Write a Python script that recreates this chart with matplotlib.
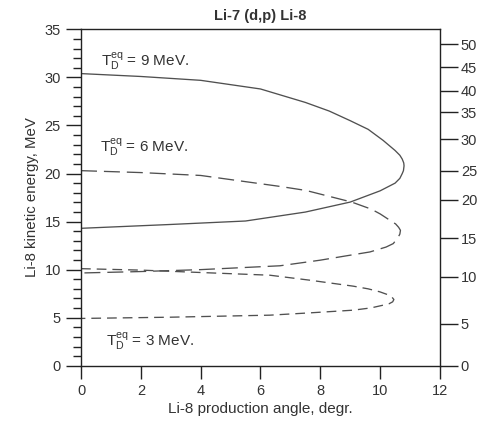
import matplotlib
matplotlib.use("Agg")
import matplotlib.pyplot as plt

plt.rcParams["font.family"] = ["Liberation Sans", "DejaVu Sans"]
plt.rcParams["mathtext.fontset"] = "custom"
plt.rcParams["mathtext.rm"] = "Liberation Sans"
plt.rcParams["mathtext.it"] = "Liberation Sans"
plt.rcParams["lines.scale_dashes"] = False

# Li-8 kinematic loops: production angle (deg) vs kinetic energy (MeV),
# traced from the high-energy branch at 0 deg round to the low-energy branch.
angle_9 = [0, 2, 4, 6, 7.5, 8.3, 9.0, 9.6, 10.1, 10.5, 10.66, 10.74, 10.79, 10.8, 10.78, 10.74, 10.66, 10.5, 10.0, 9.0, 7.5, 5.5, 3, 0]
energy_9 = [30.4, 30.1, 29.7, 28.8, 27.4, 26.5, 25.5, 24.6, 23.45, 22.4, 21.9, 21.5, 21.1, 20.8, 20.3, 20.0, 19.5, 19.0, 18.2, 17.03, 15.99, 15.06, 14.7, 14.3]

angle_6 = [0, 2, 4, 6.65, 7.52, 9.05, 9.7, 10.0, 10.33, 10.52, 10.62, 10.68, 10.66, 10.6, 10.44, 10.2, 9.66, 8.8, 7.99, 6.65, 4, 2, 0]
energy_6 = [20.3, 20.1, 19.8, 18.66, 18.24, 17.03, 16.3, 15.8, 15.13, 14.75, 14.4, 14.09, 13.7, 13.35, 12.71, 12.35, 11.84, 11.4, 10.98, 10.4, 10.0, 9.8, 9.65]

angle_3 = [0, 2, 4, 6.31, 7.65, 9.1, 9.6, 9.99, 10.25, 10.4, 10.46, 10.42, 10.3, 10.1, 9.7, 9.1, 7.65, 6.31, 3, 0]
energy_3 = [10.1, 9.95, 9.7, 9.42, 8.9, 8.28, 8.0, 7.69, 7.4, 7.12, 6.89, 6.65, 6.45, 6.3, 6.02, 5.78, 5.5, 5.26, 5.05, 4.92]

curve_labels = ["9 MeV.", "6 MeV.", "3 MeV."]

x_ticks = [0, 2, 4, 6, 8, 10, 12]
y_ticks = [0, 5, 10, 15, 20, 25, 30, 35]

# secondary scale on the right: tick values and where they sit on the MeV axis
right_scale_values = [0, 5, 10, 15, 20, 25, 30, 35, 40, 45, 50]
right_scale_at_mev = [0, 4.35, 9.28, 13.25, 17.25, 20.3, 23.55, 26.4, 28.6, 31.05, 33.45]

ink = "#333333"
line_col = "#505050"

fig = plt.figure(figsize=(4.91, 4.26), dpi=100)
ax = fig.add_axes([0.165, 0.1415, 0.731, 0.7895])

ax.plot(angle_9, energy_9, color=line_col, lw=0.95)
ax.plot(angle_6, energy_6, color=line_col, lw=0.95, dashes=(11.5, 5.0))
ax.plot(angle_3, energy_3, color=line_col, lw=0.95, dashes=(7.0, 4.3))

ax.set_xlim(0, 12)
ax.set_ylim(0, 35)
ax.set_xticks(x_ticks)
ax.set_yticks(y_ticks)
ax.set_yticks(range(0, 36), minor=True)

for sp in ax.spines.values():
    sp.set_color("#222222")
    sp.set_linewidth(1.0)

ax.tick_params(axis="y", which="major", direction="out", length=10.5, width=1.0,
               color="#222222", labelsize=10.5, labelcolor=ink, pad=4)
ax.tick_params(axis="y", which="minor", direction="out", length=5.5, width=1.0,
               color="#222222")
ax.tick_params(axis="x", which="major", direction="out", length=9, width=1.0,
               color="#222222", labelsize=10.5, labelcolor=ink, pad=4)

ax.set_xlabel("Li-8 production angle, degr.", fontsize=11, color=ink, labelpad=3)
ax.set_ylabel("Li-8 kinetic energy, MeV", fontsize=10.8, color=ink, labelpad=4)
ax.set_title("Li-7 (d,p) Li-8", fontsize=10.5, fontweight="bold", color=ink, pad=7)

label_pos = [(0.67, 31.7), (0.63, 22.7), (0.84, 2.5)]
for (lx, ly), txt in zip(label_pos, curve_labels):
    ax.text(lx, ly, r"$\mathregular{T_D^{eq}}$ = " + txt, fontsize=11,
            color=ink, va="center", ha="left")

axr = ax.twinx()
axr.set_ylim(0, 35)
axr.set_yticks(right_scale_at_mev)
axr.set_yticklabels([str(v) for v in right_scale_values])
axr.tick_params(axis="y", direction="out", length=13, width=1.0,
                color="#222222", labelsize=10.5, labelcolor=ink, pad=2)
for sp in axr.spines.values():
    sp.set_visible(False)

fig.savefig("out.png", dpi=100)
